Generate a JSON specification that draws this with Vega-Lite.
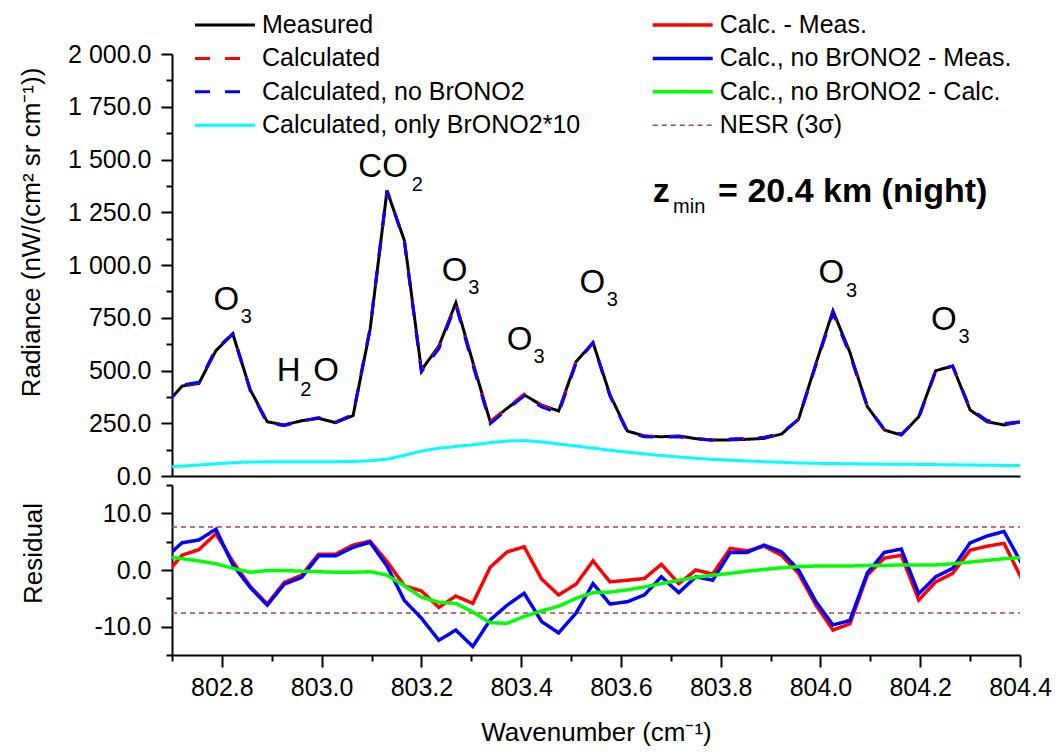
{
  "$schema": "https://vega.github.io/schema/vega-lite/v6.json",
  "padding": {"left": 18, "top": 12, "right": 5, "bottom": 5},
  "spacing": 9,
  "bounds": "flush",
  "config": {
    "font": "Liberation Sans",
    "view": {"stroke": null},
    "axis": {"domainColor": "#000", "domainWidth": 2, "tickColor": "#000", "tickWidth": 2, "labelColor": "#000", "titleColor": "#000", "labelFont": "Liberation Sans", "titleFont": "Liberation Sans", "labelFontSize": 25, "titleFontSize": 26, "titleFontWeight": "normal", "grid": false, "labelOverlap": false, "labelFlush": false},
    "legend": {"labelFont": "Liberation Sans", "labelFontSize": 25, "labelColor": "#000", "labelLimit": 500}
  },
  "datasets": {
    "spec": [
      {"w": 802.685, "meas": 332, "calc": 331.0, "noBr": 334.0, "only": 42, "rC": -1.0, "rN": 2.0, "rD": 2.4},
      {"w": 802.720, "meas": 426, "calc": 428.6, "noBr": 430.8, "only": 47, "rC": 2.6, "rN": 4.8, "rD": 2.0},
      {"w": 802.754, "meas": 439, "calc": 442.6, "noBr": 444.3, "only": 52, "rC": 3.6, "rN": 5.3, "rD": 1.6},
      {"w": 802.788, "meas": 594, "calc": 600.4, "noBr": 601.2, "only": 58, "rC": 6.4, "rN": 7.2, "rD": 1.1},
      {"w": 802.822, "meas": 673, "calc": 674.5, "noBr": 673.9, "only": 63, "rC": 1.5, "rN": 0.9, "rD": 0.3},
      {"w": 802.857, "meas": 408, "calc": 405.1, "noBr": 404.9, "only": 66, "rC": -2.9, "rN": -3.1, "rD": -0.4},
      {"w": 802.891, "meas": 257, "calc": 251.0, "noBr": 250.8, "only": 67, "rC": -6.0, "rN": -6.2, "rD": -0.1},
      {"w": 802.925, "meas": 242, "calc": 239.8, "noBr": 239.5, "only": 68, "rC": -2.2, "rN": -2.5, "rD": -0.1},
      {"w": 802.960, "meas": 262, "calc": 261.1, "noBr": 260.7, "only": 68, "rC": -0.9, "rN": -1.3, "rD": -0.2},
      {"w": 802.994, "meas": 273, "calc": 275.8, "noBr": 275.5, "only": 68, "rC": 2.8, "rN": 2.5, "rD": -0.3},
      {"w": 803.028, "meas": 253, "calc": 255.8, "noBr": 255.5, "only": 68, "rC": 2.8, "rN": 2.5, "rD": -0.4},
      {"w": 803.063, "meas": 286, "calc": 290.4, "noBr": 290.0, "only": 69, "rC": 4.4, "rN": 4.0, "rD": -0.4},
      {"w": 803.097, "meas": 692, "calc": 697.1, "noBr": 696.9, "only": 72, "rC": 5.1, "rN": 4.9, "rD": -0.3},
      {"w": 803.131, "meas": 1352, "calc": 1353.5, "noBr": 1352.7, "only": 80, "rC": 1.5, "rN": 0.7, "rD": -0.9},
      {"w": 803.166, "meas": 1115, "calc": 1112.2, "noBr": 1109.6, "only": 98, "rC": -2.8, "rN": -5.4, "rD": -2.8},
      {"w": 803.200, "meas": 502, "calc": 498.3, "noBr": 493.5, "only": 118, "rC": -3.7, "rN": -8.5, "rD": -4.8},
      {"w": 803.235, "meas": 616, "calc": 609.4, "noBr": 603.6, "only": 132, "rC": -6.6, "rN": -12.4, "rD": -5.7},
      {"w": 803.269, "meas": 821, "calc": 816.4, "noBr": 810.4, "only": 140, "rC": -4.6, "rN": -10.6, "rD": -5.9},
      {"w": 803.303, "meas": 540, "calc": 534.1, "noBr": 526.5, "only": 148, "rC": -5.9, "rN": -13.5, "rD": -7.4},
      {"w": 803.338, "meas": 257, "calc": 257.5, "noBr": 248.2, "only": 158, "rC": 0.5, "rN": -8.8, "rD": -9.3},
      {"w": 803.372, "meas": 321, "calc": 324.2, "noBr": 314.8, "only": 166, "rC": 3.2, "rN": -6.2, "rD": -9.4},
      {"w": 803.406, "meas": 384, "calc": 388.1, "noBr": 379.9, "only": 168, "rC": 4.1, "rN": -4.1, "rD": -8.2},
      {"w": 803.441, "meas": 336, "calc": 334.4, "noBr": 326.9, "only": 162, "rC": -1.6, "rN": -9.1, "rD": -7.2},
      {"w": 803.475, "meas": 308, "calc": 303.6, "noBr": 296.9, "only": 152, "rC": -4.4, "rN": -11.1, "rD": -6.4},
      {"w": 803.510, "meas": 542, "calc": 539.5, "noBr": 534.4, "only": 142, "rC": -2.5, "rN": -7.6, "rD": -5.0},
      {"w": 803.544, "meas": 632, "calc": 633.6, "noBr": 629.6, "only": 132, "rC": 1.6, "rN": -2.4, "rD": -4.0},
      {"w": 803.578, "meas": 385, "calc": 382.9, "noBr": 379.0, "only": 122, "rC": -2.1, "rN": -6.0, "rD": -3.9},
      {"w": 803.613, "meas": 213, "calc": 211.2, "noBr": 207.4, "only": 113, "rC": -1.8, "rN": -5.6, "rD": -3.5},
      {"w": 803.647, "meas": 190, "calc": 188.5, "noBr": 185.6, "only": 105, "rC": -1.5, "rN": -4.4, "rD": -3.0},
      {"w": 803.681, "meas": 186, "calc": 187.0, "noBr": 184.8, "only": 97, "rC": 1.0, "rN": -1.2, "rD": -2.4},
      {"w": 803.716, "meas": 190, "calc": 187.6, "noBr": 186.0, "only": 90, "rC": -2.4, "rN": -4.0, "rD": -1.8},
      {"w": 803.750, "meas": 177, "calc": 177.0, "noBr": 175.8, "only": 84, "rC": 0.0, "rN": -1.2, "rD": -1.3},
      {"w": 803.784, "meas": 171, "calc": 170.3, "noBr": 169.2, "only": 79, "rC": -0.7, "rN": -1.8, "rD": -0.9},
      {"w": 803.819, "meas": 171, "calc": 174.8, "noBr": 174.1, "only": 75, "rC": 3.8, "rN": 3.1, "rD": -0.6},
      {"w": 803.853, "meas": 174, "calc": 177.4, "noBr": 177.1, "only": 71, "rC": 3.4, "rN": 3.1, "rD": -0.2},
      {"w": 803.887, "meas": 178, "calc": 182.2, "noBr": 182.4, "only": 68, "rC": 4.2, "rN": 4.4, "rD": 0.1},
      {"w": 803.922, "meas": 199, "calc": 201.6, "noBr": 202.2, "only": 65, "rC": 2.6, "rN": 3.2, "rD": 0.4},
      {"w": 803.956, "meas": 269, "calc": 268.4, "noBr": 269.0, "only": 62, "rC": -0.6, "rN": 0.0, "rD": 0.6},
      {"w": 803.991, "meas": 534, "calc": 527.8, "noBr": 528.4, "only": 60, "rC": -6.2, "rN": -5.6, "rD": 0.7},
      {"w": 804.025, "meas": 783, "calc": 772.4, "noBr": 773.3, "only": 59, "rC": -10.6, "rN": -9.7, "rD": 0.7},
      {"w": 804.059, "meas": 586, "calc": 576.5, "noBr": 577.1, "only": 58, "rC": -9.5, "rN": -8.9, "rD": 0.7},
      {"w": 804.094, "meas": 329, "calc": 328.1, "noBr": 328.5, "only": 57, "rC": -0.9, "rN": -0.5, "rD": 0.8},
      {"w": 804.128, "meas": 218, "calc": 220.1, "noBr": 221.1, "only": 56, "rC": 2.1, "rN": 3.1, "rD": 0.8},
      {"w": 804.162, "meas": 194, "calc": 196.6, "noBr": 197.7, "only": 56, "rC": 2.6, "rN": 3.7, "rD": 0.9},
      {"w": 804.197, "meas": 281, "calc": 275.7, "noBr": 276.8, "only": 55, "rC": -5.3, "rN": -4.2, "rD": 0.9},
      {"w": 804.231, "meas": 499, "calc": 496.9, "noBr": 497.8, "only": 54, "rC": -2.1, "rN": -1.2, "rD": 0.9},
      {"w": 804.265, "meas": 521, "calc": 520.4, "noBr": 521.3, "only": 53, "rC": -0.6, "rN": 0.3, "rD": 1.1},
      {"w": 804.300, "meas": 313, "calc": 316.5, "noBr": 317.8, "only": 52, "rC": 3.5, "rN": 4.8, "rD": 1.4},
      {"w": 804.334, "meas": 257, "calc": 261.2, "noBr": 263.0, "only": 51, "rC": 4.2, "rN": 6.0, "rD": 1.7},
      {"w": 804.368, "meas": 242, "calc": 246.7, "noBr": 248.8, "only": 50, "rC": 4.7, "rN": 6.8, "rD": 2.0},
      {"w": 804.403, "meas": 257, "calc": 255.5, "noBr": 258.2, "only": 49, "rC": -1.5, "rN": 1.2, "rD": 2.2}
    ]
  },
  "resolve": {
    "scale": {"color": "independent", "strokeDash": "independent", "strokeWidth": "independent"},
    "legend": {"color": "independent", "strokeDash": "independent", "strokeWidth": "independent"}
  },
  "vconcat": [
    {
      "width": 848,
      "height": 422,
      "encoding": {
        "x": {"field": "w", "type": "quantitative", "scale": {"domain": [802.7, 804.4], "nice": false, "zero": false}, "axis": {"labels": false, "ticks": false, "title": null, "grid": false}},
        "y": {"field": "v", "type": "quantitative", "scale": {"domain": [0, 2000], "nice": false, "zero": false},
          "axis": {
            "values": [0, 125, 250, 375, 500, 625, 750, 875, 1000, 1125, 1250, 1375, 1500, 1625, 1750, 1875, 2000],
            "labelExpr": "datum.value % 250 === 0 ? replace(format(datum.value, ',.1f'), ',', ' ') : ''",
            "tickSize": {"condition": {"test": "datum.value % 250 === 0", "value": 11}, "value": 6},
            "labelPadding": 10,
            "title": "Radiance (nW/(cm² sr cm⁻¹))",
            "titleX": -133, "titleY": 178, "titleBaseline": "alphabetic", "titleAlign": "center", "titleAngle": 270
          }
        }
      },
      "layer": [
        {
          "data": {"name": "spec"},
          "transform": [{"fold": ["meas", "calc", "noBr", "only"], "as": ["s", "v"]}],
          "mark": {"type": "line", "clip": true, "strokeWidth": 3},
          "encoding": {
            "color": {"field": "s", "type": "nominal",
              "scale": {"domain": ["meas", "calc", "noBr", "only"], "range": ["#000000", "#ff0000", "#0000ff", "#00ffff"]},
              "legend": {"orient": "none", "legendX": 40.5, "legendY": -41.5, "title": null, "padding": 0,
                "symbolType": "M-4,0H4", "symbolSize": 225, "symbolStrokeWidth": 3, "labelOffset": 24.5, "rowPadding": 7.4, "labelLimit": 500,
                "labelExpr": "datum.label === 'meas' ? 'Measured' : datum.label === 'calc' ? 'Calculated' : datum.label === 'noBr' ? 'Calculated, no BrONO2' : 'Calculated, only BrONO2*10'"}},
            "strokeDash": {"field": "s", "type": "nominal",
              "scale": {"domain": ["meas", "calc", "noBr", "only"], "range": [[1, 0], [15, 15], [15, 15], [1, 0]]},
              "legend": {"orient": "none", "legendX": 40.5, "legendY": -41.5, "title": null, "padding": 0,
                "symbolType": "M-4,0H4", "symbolSize": 225, "symbolStrokeWidth": 3, "labelOffset": 24.5, "rowPadding": 7.4, "labelLimit": 500,
                "labelExpr": "datum.label === 'meas' ? 'Measured' : datum.label === 'calc' ? 'Calculated' : datum.label === 'noBr' ? 'Calculated, no BrONO2' : 'Calculated, only BrONO2*10'"}}
          }
        },
        {
          "data": {"values": [
            {"t": "O", "w": 802.783, "v": 786.7},
            {"t": "H", "w": 802.910, "v": 451.7},
            {"t": "O", "w": 802.983, "v": 451.7},
            {"t": "CO", "w": 803.0735, "v": 1415.6},
            {"t": "O", "w": 803.2407, "v": 924},
            {"t": "O", "w": 803.371, "v": 597},
            {"t": "O", "w": 803.5167, "v": 866},
            {"t": "O", "w": 803.996, "v": 913},
            {"t": "O", "w": 804.2218, "v": 692}
          ]},
          "mark": {"type": "text", "align": "left", "baseline": "alphabetic", "font": "Liberation Sans", "fontSize": 33, "color": "#000"},
          "encoding": {"text": {"field": "t"}}
        },
        {
          "data": {"values": [
            {"t": "3", "w": 802.838, "v": 726.5},
            {"t": "2", "w": 802.957, "v": 379},
            {"t": "2", "w": 803.1806, "v": 1352},
            {"t": "3", "w": 803.294, "v": 861},
            {"t": "3", "w": 803.4245, "v": 537},
            {"t": "3", "w": 803.5716, "v": 805.7},
            {"t": "3", "w": 804.0514, "v": 850},
            {"t": "3", "w": 804.2767, "v": 629},
            {"t": "min", "w": 803.7045, "v": 1246}
          ]},
          "mark": {"type": "text", "align": "left", "baseline": "alphabetic", "font": "Liberation Sans", "fontSize": 20, "color": "#000"},
          "encoding": {"text": {"field": "t"}}
        },
        {
          "data": {"values": [
            {"t": "z", "w": 803.664, "v": 1299},
            {"t": "= 20.4 km (night)", "w": 803.7948, "v": 1299}
          ]},
          "mark": {"type": "text", "align": "left", "baseline": "alphabetic", "font": "Liberation Sans", "fontSize": 34, "fontWeight": "bold", "color": "#000"},
          "encoding": {"text": {"field": "t"}}
        }
      ]
    },
    {
      "width": 848,
      "height": 170,
      "encoding": {
        "x": {"field": "w", "type": "quantitative", "scale": {"domain": [802.7, 804.4], "nice": false, "zero": false},
          "axis": {
            "values": [802.7, 802.8, 802.9, 803.0, 803.1, 803.2, 803.3, 803.4, 803.5, 803.6, 803.7, 803.8, 803.9, 804.0, 804.1, 804.2, 804.3, 804.4],
            "labelExpr": "round(datum.value * 10) % 2 === 0 ? format(datum.value, '.1f') : ''",
            "tickSize": {"condition": {"test": "round(datum.value * 10) % 2 === 0", "value": 12}, "value": 6},
            "labelPadding": 8,
            "title": "Wavenumber (cm⁻¹)",
            "titleY": 85, "titleBaseline": "alphabetic"
          }
        },
        "y": {"field": "v", "type": "quantitative", "scale": {"domain": [-15, 15], "nice": false, "zero": false},
          "axis": {
            "values": [-15, -10, -5, 0, 5, 10, 15],
            "labelExpr": "datum.value % 10 === 0 ? (datum.value + '.0') : ''",
            "tickSize": {"condition": {"test": "datum.value % 10 === 0", "value": 11}, "value": 6},
            "labelPadding": 10,
            "title": "Residual",
            "titleX": -131, "titleY": 68, "titleBaseline": "alphabetic", "titleAlign": "center", "titleAngle": 270
          }
        }
      },
      "layer": [
        {
          "data": {"values": [{"s": "nesr", "v": 7.6}, {"s": "nesr", "v": -7.6}]},
          "mark": {"type": "rule"},
          "encoding": {
            "x": {"value": 0},
            "x2": {"value": 848},
            "color": {"field": "s", "type": "nominal",
              "scale": {"domain": ["rC", "rN", "rD", "nesr"], "range": ["#ff0000", "#0000ff", "#00ff00", "#a04848"]},
              "legend": {"orient": "none", "legendX": 498.2, "legendY": -472.5, "title": null, "padding": 0,
                "symbolType": "M-4,0H4", "symbolSize": 225, "symbolStrokeWidth": 3, "labelOffset": 24.5, "rowPadding": 7.4, "labelLimit": 500,
                "labelExpr": "datum.label === 'rC' ? 'Calc. - Meas.' : datum.label === 'rN' ? 'Calc., no BrONO2 - Meas.' : datum.label === 'rD' ? 'Calc., no BrONO2 - Calc.' : 'NESR (3σ)'"}},
            "strokeDash": {"field": "s", "type": "nominal",
              "scale": {"domain": ["rC", "rN", "rD", "nesr"], "range": [[1, 0], [1, 0], [1, 0], [5, 4]]},
              "legend": {"orient": "none", "legendX": 498.2, "legendY": -472.5, "title": null, "padding": 0,
                "symbolType": "M-4,0H4", "symbolSize": 225, "symbolStrokeWidth": 3, "labelOffset": 24.5, "rowPadding": 7.4, "labelLimit": 500,
                "labelExpr": "datum.label === 'rC' ? 'Calc. - Meas.' : datum.label === 'rN' ? 'Calc., no BrONO2 - Meas.' : datum.label === 'rD' ? 'Calc., no BrONO2 - Calc.' : 'NESR (3σ)'"}},
            "strokeWidth": {"field": "s", "type": "nominal",
              "scale": {"type": "ordinal", "domain": ["rC", "rN", "rD", "nesr"], "range": [3.5, 3.5, 3.5, 1.5]},
              "legend": {"orient": "none", "legendX": 498.2, "legendY": -472.5, "title": null, "padding": 0,
                "symbolType": "M-4,0H4", "symbolSize": 225, "labelOffset": 24.5, "rowPadding": 7.4, "labelLimit": 500,
                "labelExpr": "datum.label === 'rC' ? 'Calc. - Meas.' : datum.label === 'rN' ? 'Calc., no BrONO2 - Meas.' : datum.label === 'rD' ? 'Calc., no BrONO2 - Calc.' : 'NESR (3σ)'"}}
          }
        },
        {
          "mark": {"type": "rule", "color": "#000", "strokeWidth": 1.5},
          "encoding": {"y": {"datum": 0}}
        },
        {
          "data": {"name": "spec"},
          "transform": [{"fold": ["rC", "rN", "rD"], "as": ["s", "v"]}],
          "mark": {"type": "line", "clip": true},
          "encoding": {
            "color": {"field": "s", "type": "nominal",
              "scale": {"domain": ["rC", "rN", "rD", "nesr"], "range": ["#ff0000", "#0000ff", "#00ff00", "#a04848"]}},
            "strokeDash": {"field": "s", "type": "nominal",
              "scale": {"domain": ["rC", "rN", "rD", "nesr"], "range": [[1, 0], [1, 0], [1, 0], [5, 4]]}},
            "strokeWidth": {"field": "s", "type": "nominal",
              "scale": {"type": "ordinal", "domain": ["rC", "rN", "rD", "nesr"], "range": [3.5, 3.5, 3.5, 1.5]}}
          }
        }
      ]
    }
  ]
}
